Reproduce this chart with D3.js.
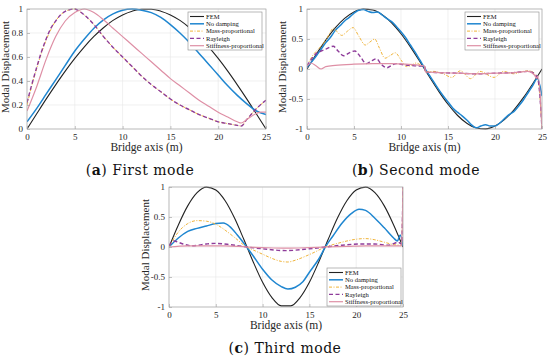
<!DOCTYPE html>
<html>
<head>
<meta charset="utf-8">
<script src="https://cdn.jsdelivr.net/npm/d3@7"></script>
<style>
  body { margin: 0; background: #fff; }
  svg { display: block; }
</style>
</head>
<body>
<script>
// ---------- data ----------
var seriesNames = ["FEM", "No damping", "Mass-proportional", "Rayleigh", "Stiffness-proportional"];
var xTicks = [0, 5, 10, 15, 20, 25];
var yTicksA = [0, 0.2, 0.4, 0.6, 0.8, 1];
var yTicksBC = [-1, -0.5, 0, 0.5, 1];
var xStep = [0,1,2,3,4,5,6,7,8,9,10,11,12,13,14,15,16,17,18,19,20,21,22,23,24,25];

// (a) first mode
var femA = [0, .125, .249, .368, .482, .588, .685, .771, .844, .905, .951, .982, .998, .998, .982, .951, .905, .844, .771, .685, .588, .482, .368, .249, .125, 0];
var noDampA = [0.06, 0.17, 0.29, 0.41, 0.53, 0.65, 0.75, 0.84, 0.91, 0.96, 0.99, 1.0, 0.99, 0.97, 0.93, 0.87, 0.80, 0.72, 0.63, 0.54, 0.45, 0.36, 0.28, 0.21, 0.15, 0.12];
var massA = [[0,0.2],[0.5,0.36],[1,0.5],[1.5,0.63],[2,0.74],[2.5,0.83],[3,0.9],[3.5,0.95],[4,0.98],[4.5,0.995],[5,1.0],[5.5,0.98],[6,0.95],[7,0.87],[8,0.77],[9,0.68],[10,0.6],[11,0.52],[12,0.44],[13,0.37],[14,0.31],[15,0.25],[16,0.2],[17,0.16],[18,0.12],[19,0.09],[20,0.06],[21,0.045],[22,0.03],[22.4,0.025],[23,0.08],[24,0.17],[25,0.24]];
var rayleighA = [[0,0.22],[0.5,0.37],[1,0.51],[1.5,0.64],[2,0.75],[2.5,0.84],[3,0.9],[3.5,0.95],[4,0.98],[4.5,0.995],[5,1.0],[5.5,0.98],[6,0.95],[7,0.87],[8,0.77],[9,0.68],[10,0.6],[11,0.52],[12,0.44],[13,0.37],[14,0.31],[15,0.25],[16,0.2],[17,0.16],[18,0.12],[19,0.09],[20,0.06],[21,0.045],[22,0.03],[22.4,0.025],[23,0.08],[24,0.17],[25,0.24]];
var stiffA = [[0,0.15],[1,0.35],[2,0.58],[3,0.77],[4,0.9],[5,0.97],[6,1.0],[7,0.97],[8,0.91],[9,0.84],[10,0.77],[11,0.7],[12,0.63],[13,0.56],[14,0.49],[15,0.42],[16,0.36],[17,0.3],[18,0.24],[19,0.19],[20,0.14],[21,0.1],[22,0.06],[22.4,0.05],[23,0.08],[24,0.13],[24.5,0.14],[25,0.14]];

// (b) second mode
var femB = [0, .249, .482, .685, .844, .951, .998, .982, .905, .771, .588, .368, .125, -.125, -.368, -.588, -.771, -.905, -.982, -.998, -.951, -.844, -.685, -.482, -.249, 0];
var noDampB = [[0,0.03],[0.5,0.12],[1,0.22],[1.5,0.33],[2,0.44],[2.5,0.53],[3,0.64],[3.5,0.72],[4,0.8],[4.5,0.86],[5,0.93],[5.5,0.98],[6,0.99],[6.5,0.96],[7,0.94],[7.5,0.95],[8,0.9],[8.5,0.84],[9,0.79],[9.5,0.71],[10,0.62],[10.5,0.52],[11,0.4],[11.5,0.28],[12,0.15],[12.5,0.02],[13,-0.1],[13.5,-0.22],[14,-0.34],[14.5,-0.45],[15,-0.55],[15.5,-0.65],[16,-0.72],[16.5,-0.78],[17,-0.85],[17.5,-0.93],[18,-0.98],[18.5,-0.95],[19,-0.93],[19.5,-0.95],[20,-0.95],[20.5,-0.9],[21,-0.83],[21.5,-0.76],[22,-0.71],[22.5,-0.62],[23,-0.52],[23.5,-0.4],[24,-0.28],[24.5,-0.16],[25,-0.45]];
var massB = [[0,0.05],[0.5,0.2],[1,0.3],[1.5,0.38],[2,0.48],[2.5,0.62],[2.8,0.68],[3.2,0.62],[3.7,0.56],[4.3,0.63],[4.9,0.69],[5.5,0.55],[6.2,0.4],[6.7,0.45],[7.2,0.5],[7.7,0.35],[8.3,0.18],[8.8,0.22],[9.4,0.27],[10,0.15],[10.6,0.04],[11.1,0.06],[11.6,0.1],[12.2,0.06],[12.5,0.05],[12.6,-0.05],[13.5,-0.04],[14.5,-0.08],[15.4,-0.14],[16.3,-0.03],[17.4,-0.16],[18.4,-0.04],[19.9,-0.14],[20.9,-0.04],[22,-0.08],[23,-0.04],[23.7,-0.03],[24.3,-0.1],[24.6,-0.2],[25,-1]];
var rayleighB = [[0,0.05],[0.5,0.17],[1,0.26],[1.5,0.3],[2,0.33],[2.8,0.38],[3.3,0.3],[3.9,0.22],[4.5,0.27],[5.1,0.3],[5.7,0.2],[6.3,0.09],[6.8,0.13],[7.4,0.17],[7.9,0.08],[8.5,0.02],[9,0.06],[9.5,0.09],[10.3,0.07],[11,0.06],[12,0.05],[12.5,0.05],[12.6,-0.05],[14,-0.06],[16,-0.07],[18,-0.08],[20,-0.07],[22,-0.06],[23.5,-0.04],[24.2,-0.08],[24.6,-0.2],[25,-1]];
var stiffB = [[0,0.05],[0.4,0.1],[0.9,0.06],[1.5,0.0],[2,0.04],[3,0.06],[5,0.08],[7,0.09],[9,0.09],[10.5,0.08],[12.5,0.05],[12.6,-0.05],[14,-0.06],[16,-0.07],[18,-0.08],[20,-0.07],[22,-0.06],[23.5,-0.04],[24.2,-0.1],[24.4,-0.15],[24.6,-0.12],[25,-1]];

// (c) third mode
var femC = [0, .368, .685, .905, .998, .951, .771, .482, .125, -.249, -.588, -.844, -.982, -.982, -.844, -.588, -.249, .125, .482, .771, .951, .998, .905, .685, .368, 0];
var noDampC = [[0,0],[1,0.15],[2,0.26],[3,0.31],[4,0.35],[5,0.39],[5.8,0.4],[6.5,0.34],[7.3,0.2],[8.3,0],[9,-0.15],[10,-0.37],[11,-0.55],[12,-0.66],[12.7,-0.7],[13.5,-0.67],[14.3,-0.58],[15,-0.42],[16,-0.2],[16.7,0],[17.5,0.18],[18.5,0.4],[19.5,0.56],[20.3,0.63],[21,0.61],[22,0.48],[23,0.32],[24,0.15],[24.4,0.1],[24.7,0.2],[25,0.02]];
var massC = [[0,0],[1,0.25],[2,0.39],[3,0.44],[4,0.43],[5,0.38],[6,0.28],[7,0.16],[8.3,0],[9,-0.05],[10,-0.12],[11,-0.19],[12,-0.24],[12.7,-0.25],[13.5,-0.22],[14.5,-0.16],[15.5,-0.09],[16.7,0],[18,0.06],[19,0.1],[20,0.13],[21,0.14],[22,0.12],[23,0.08],[24,0.04],[24.85,0.03],[25,1]];
var rayleighC = [[0,0.02],[0.5,0.1],[1.5,0.05],[2.5,0.02],[4,0.05],[5,0.06],[6.5,0.04],[8.3,0],[10,-0.03],[12.5,-0.06],[15,-0.03],[16.7,0],[18.5,0.03],[20.5,0.05],[22,0.05],[23.5,0.03],[24.5,0.08],[24.85,0.05],[25,1]];
var stiffC = [[0,0],[2,0.02],[4,0.02],[6,0.02],[8.3,0],[10,-0.01],[12.5,-0.02],[15,-0.01],[16.7,0],[19,0.01],[21,0.02],[23,0.02],[24.5,0.02],[24.85,0.02],[25,1]];

// ---------- styles ----------
var SERIF = "'Liberation Serif', 'Times New Roman', Times, serif";
var CAPFONT = "'DejaVu Serif', 'Liberation Serif', serif";
var styles = [
  { color: "#222222", width: 1.1, dash: null },
  { color: "#1f86d0", width: 1.5, dash: null },
  { color: "#f0b43a", width: 1.0, dash: "3,1.5,1,1.5" },
  { color: "#8e3c9a", width: 1.4, dash: "4,2.5" },
  { color: "#de8fa5", width: 1.2, dash: null }
];

function zipX(ys) { return ys.map(function (y, i) { return [xStep[i], y]; }); }

var svg = d3.select("body").append("svg").attr("width", 550).attr("height", 360);

function drawPanel(p) {
  var x = d3.scaleLinear().domain([0, 25]).range([p.left, p.right]);
  var y = d3.scaleLinear().domain(p.yDomain).range([p.bottom, p.top]);
  var g = svg.append("g");

  // grid
  g.selectAll(".gx").data(xTicks).enter().append("line")
    .attr("x1", d => x(d)).attr("x2", d => x(d))
    .attr("y1", p.top).attr("y2", p.bottom)
    .attr("stroke", "#e6e6e6").attr("stroke-width", 0.6);
  g.selectAll(".gy").data(p.yTicks).enter().append("line")
    .attr("x1", p.left).attr("x2", p.right)
    .attr("y1", d => y(d)).attr("y2", d => y(d))
    .attr("stroke", "#e6e6e6").attr("stroke-width", 0.6);

  // clip
  var clipId = "clip" + p.id;
  svg.append("clipPath").attr("id", clipId).append("rect")
    .attr("x", p.left).attr("y", p.top - 1)
    .attr("width", p.right - p.left).attr("height", p.bottom - p.top + 2);

  var line = d3.line().x(d => x(d[0])).y(d => y(d[1])).curve(d3.curveMonotoneX);
  var lines = g.append("g").attr("clip-path", "url(#" + clipId + ")");
  p.series.forEach(function (s, i) {
    lines.append("path").datum(s)
      .attr("d", line)
      .attr("fill", "none")
      .attr("stroke", styles[i].color)
      .attr("stroke-width", styles[i].width)
      .attr("stroke-dasharray", styles[i].dash);
  });

  // axes
  var xAxis = d3.axisBottom(x).tickValues(xTicks).tickSize(-3).tickPadding(5).tickFormat(d3.format("d"));
  var yAxis = d3.axisLeft(y).tickValues(p.yTicks).tickSize(-3).tickPadding(4).tickFormat(d => String(d));
  var gx = g.append("g").attr("transform", "translate(0," + p.bottom + ")").call(xAxis);
  var gy = g.append("g").attr("transform", "translate(" + p.left + ",0)").call(yAxis);
  [gx, gy].forEach(function (a) {
    a.attr("font-family", SERIF).attr("font-size", 9);
    a.select(".domain").remove();
    a.selectAll("line").attr("stroke", "#9a9a9a").attr("stroke-width", 0.6);
    a.selectAll("text").attr("fill", "#262626");
  });

  // box
  g.append("rect").attr("x", p.left).attr("y", p.top)
    .attr("width", p.right - p.left).attr("height", p.bottom - p.top)
    .attr("fill", "none").attr("stroke", "#a8a8a8").attr("stroke-width", 0.7);

  // axis labels
  g.append("text")
    .attr("x", (p.left + p.right) / 2).attr("y", p.bottom + 22)
    .attr("text-anchor", "middle").attr("font-size", 11.5).attr("fill", "#262626")
    .text("Bridge axis (m)");
  g.append("text")
    .attr("transform", "translate(" + p.yLabelX + "," + ((p.top + p.bottom) / 2 - 2) + ") rotate(-90)")
    .attr("text-anchor", "middle").attr("font-size", 11).attr("fill", "#262626")
    .text("Modal Displacement");

  // legend
  var lg = g.append("g").attr("transform", "translate(" + p.legX + "," + p.legY + ")");
  lg.append("rect").attr("width", 74).attr("height", 38)
    .attr("fill", "#fff").attr("stroke", "#8a8a8a").attr("stroke-width", 0.6);
  seriesNames.forEach(function (n, i) {
    var yy = 4.5 + i * 7.3;
    lg.append("line").attr("x1", 2).attr("x2", 16).attr("y1", yy).attr("y2", yy)
      .attr("stroke", styles[i].color).attr("stroke-width", styles[i].width)
      .attr("stroke-dasharray", styles[i].dash);
    lg.append("text").attr("x", 18).attr("y", yy + 2.2).attr("font-size", 6.6)
      .attr("fill", "#111").text(n);
  });

  g.selectAll("text").style("font-family", SERIF);

  // caption
  var cap = g.append("text")
    .attr("x", p.capX).attr("y", p.bottom + 46)
    .attr("text-anchor", "middle").attr("font-size", 14)
    .attr("letter-spacing", 0.5)
    .style("font-family", CAPFONT)
    .attr("fill", "#111");
  cap.append("tspan").text("(");
  cap.append("tspan").attr("font-weight", "bold").text(p.letter);
  cap.append("tspan").text(") " + p.caption);
}

drawPanel({ id: "a", left: 27, right: 266, top: 9, bottom: 129, yDomain: [0, 1], yTicks: yTicksA,
  yLabelX: 9, capX: 140, letter: "a", caption: "First mode", legX: 188, legY: 12,
  series: [zipX(femA), zipX(noDampA), massA, rayleighA, stiffA] });
drawPanel({ id: "b", left: 307, right: 542, top: 9, bottom: 129, yDomain: [-1, 1], yTicks: yTicksBC,
  yLabelX: 286, capX: 416, letter: "b", caption: "Second mode", legX: 465, legY: 12,
  series: [zipX(femB), noDampB, massB, rayleighB, stiffB] });
drawPanel({ id: "c", left: 169, right: 403, top: 187, bottom: 307, yDomain: [-1, 1], yTicks: yTicksBC,
  yLabelX: 149, capX: 285, letter: "c", caption: "Third mode", legX: 327, legY: 268,
  series: [zipX(femC), noDampC, massC, rayleighC, stiffC] });
</script>
</body>
</html>
